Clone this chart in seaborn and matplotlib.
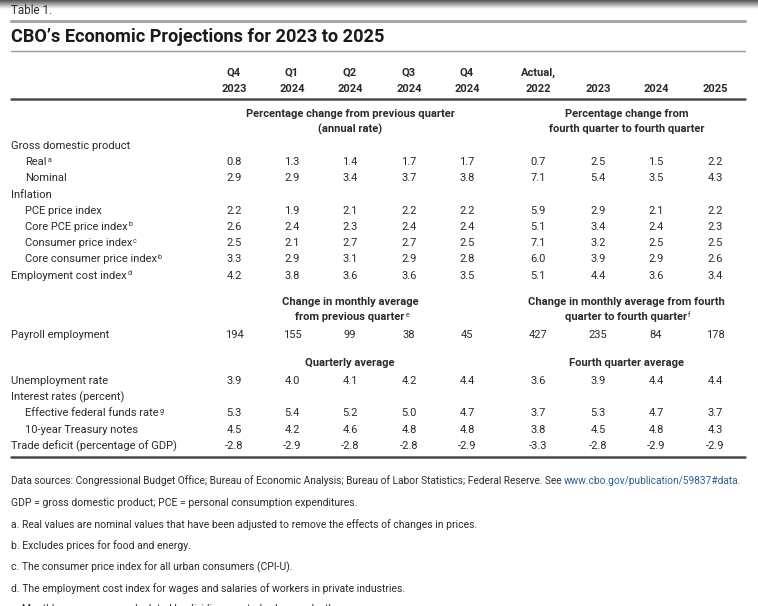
import numpy as np
import seaborn as sns
import matplotlib.pyplot as plt

# ---------------------------------------------------------------------------
# DATA
col_top = ["Q4", "Q1", "Q2", "Q3", "Q4", "Actual,", "", "", ""]
col_bottom = ["2023", "2024", "2024", "2024", "2024", "2022", "2023", "2024", "2025"]

gdp_real = [0.8, 1.3, 1.4, 1.7, 1.7, 0.7, 2.5, 1.5, 2.2]
gdp_nominal = [2.9, 2.9, 3.4, 3.7, 3.8, 7.1, 5.4, 3.5, 4.3]
pce = [2.2, 1.9, 2.1, 2.2, 2.2, 5.9, 2.9, 2.1, 2.2]
core_pce = [2.6, 2.4, 2.3, 2.4, 2.4, 5.1, 3.4, 2.4, 2.3]
cpi = [2.5, 2.1, 2.7, 2.7, 2.5, 7.1, 3.2, 2.5, 2.5]
core_cpi = [3.3, 2.9, 3.1, 2.9, 2.8, 6.0, 3.9, 2.9, 2.6]
eci = [4.2, 3.8, 3.6, 3.6, 3.5, 5.1, 4.4, 3.6, 3.4]
payroll = [194, 155, 99, 38, 45, 427, 235, 84, 178]
unemployment = [3.9, 4.0, 4.1, 4.2, 4.4, 3.6, 3.9, 4.4, 4.4]
fed_funds = [5.3, 5.4, 5.2, 5.0, 4.7, 3.7, 5.3, 4.7, 3.7]
treasury = [4.5, 4.2, 4.6, 4.8, 4.8, 3.8, 4.5, 4.8, 4.3]
trade_deficit = [-2.8, -2.9, -2.8, -2.8, -2.9, -3.3, -2.8, -2.9, -2.9]

# (label, superscript, indent, values, decimals)
rows_block1 = [
    ("Gross domestic product", "", 0, None, 1),
    ("Real", "a", 1, gdp_real, 1),
    ("Nominal", "", 1, gdp_nominal, 1),
    ("Inflation", "", 0, None, 1),
    ("PCE price index", "", 1, pce, 1),
    ("Core PCE price index", "b", 1, core_pce, 1),
    ("Consumer price index", "c", 1, cpi, 1),
    ("Core consumer price index", "b", 1, core_cpi, 1),
    ("Employment cost index", "d", 0, eci, 1),
]
rows_block2 = [("Payroll employment", "", 0, payroll, 0)]
rows_block3 = [
    ("Unemployment rate", "", 0, unemployment, 1),
    ("Interest rates (percent)", "", 0, None, 1),
    ("Effective federal funds rate", "g", 1, fed_funds, 1),
    ("10-year Treasury notes", "", 1, treasury, 1),
    ("Trade deficit (percentage of GDP)", "", 0, trade_deficit, 1),
]

group_heads = [
    (["Percentage change from previous quarter", "(annual rate)"], "",
     ["Percentage change from", "fourth quarter to fourth quarter"], ""),
    (["Change in monthly average", "from previous quarter"], "e",
     ["Change in monthly average from fourth", "quarter to fourth quarter"], "f"),
    (["Quarterly average"], "", ["Fourth quarter average"], ""),
]

footnotes = [
    "GDP = gross domestic product; PCE = personal consumption expenditures.",
    "a. Real values are nominal values that have been adjusted to remove the effects of changes in prices.",
    "b. Excludes prices for food and energy.",
    "c. The consumer price index for all urban consumers (CPI-U).",
    "d. The employment cost index for wages and salaries of workers in private industries.",
    "e. Monthly averages are calculated by dividing quarterly changes by three.",
]
source_text = ("Data sources: Congressional Budget Office; Bureau of Economic Analysis; "
               "Bureau of Labor Statistics; Federal Reserve. See ")
source_link = "www.cbo.gov/publication/59837#data."

# ---------------------------------------------------------------------------
# LAYOUT
sns.set_theme(style="white")
plt.rcParams["font.family"] = ["Roboto", "DejaVu Sans"]

W, H = 758, 606
fig = plt.figure(figsize=(W / 100, H / 100), dpi=100)
ax = fig.add_axes([0, 0, 1, 1])
ax.set_xlim(0, W)
ax.set_ylim(H, 0)
ax.axis("off")

TXT = "#2b2b2b"
col_x = [234, 292, 350, 409, 467, 538, 598, 656, 715]
left_x, indent_x, right_x = 11, 25, 745
row_step = 16.2
fs = 8.0

# shaded strip at the top
grad = np.linspace(0.33, 1.0, 30).reshape(-1, 1)
ax.imshow(grad, cmap="gray", vmin=0, vmax=1, extent=[0, W, 9, 0], aspect="auto")

ax.text(left_x, 10, "Table 1.", fontsize=8.4, color=TXT, va="center")
ax.plot([left_x, right_x], [21, 21], color="#a6a6a6", lw=2.2)
ax.text(left_x, 37, "CBO\u2019s Economic Projections for 2023 to 2025",
        fontsize=13.1, fontweight="bold", color="#1a1a1a", va="center")
ax.plot([left_x, right_x], [50.5, 50.5], color="#9a9a9a", lw=1.0)

for x, top, bottom in zip(col_x, col_top, col_bottom):
    ax.text(x, 73, top, ha="center", va="center", fontsize=fs, fontweight="bold", color=TXT)
    ax.text(x, 89, bottom, ha="center", va="center", fontsize=fs, fontweight="bold", color=TXT)
ax.plot([left_x, right_x], [98.5, 98.5], color="#4a4a4a", lw=1.8)


def sup(anchor, letter):
    # small footnote letter tucked after a label
    if letter:
        ax.annotate(letter, xy=(1, 1), xycoords=anchor, xytext=(0.5, 0.5),
                    textcoords="offset points", fontsize=5, color=TXT,
                    ha="left", va="top")


def group_header(y, head):
    left_lines, left_sup, right_lines, right_sup = head
    for lines, s, cx in [(left_lines, left_sup, col_x[2]),
                         (right_lines, right_sup, (col_x[5] + col_x[8]) / 2)]:
        for i, line in enumerate(lines):
            t = ax.text(cx, y + i * 15.5, line, ha="center", va="center",
                        fontsize=fs, fontweight="bold", color=TXT)
            if i == len(lines) - 1:
                sup(t, s)


def body(y0, rows):
    for i, (label, s, ind, vals, dec) in enumerate(rows):
        y = y0 + i * row_step
        t = ax.text(indent_x if ind else left_x, y, label, va="center",
                    fontsize=fs, color=TXT)
        sup(t, s)
        if vals is not None:
            for x, v in zip(col_x, vals):
                ax.text(x, y, f"{v:.{dec}f}", ha="center", va="center",
                        fontsize=fs, color=TXT)


group_header(114, group_heads[0])
body(146, rows_block1)
group_header(302, group_heads[1])
body(335, rows_block2)
group_header(363, group_heads[2])
body(381, rows_block3)
ax.plot([left_x, right_x], [456.5, 456.5], color="#4a4a4a", lw=1.8)

# notes
fn_fs = 7.5
t = ax.text(left_x, 481, source_text, va="center", fontsize=7.3, color=TXT)
ax.annotate(source_link, xy=(1, 0), xycoords=t, va="bottom", ha="left",
            fontsize=7.3, color="#2e5f8f")
for i, note in enumerate(footnotes):
    ax.text(left_x, 503 + i * 21.3, note, va="center", fontsize=fn_fs, color=TXT)

fig.savefig("out.png", dpi=100)
